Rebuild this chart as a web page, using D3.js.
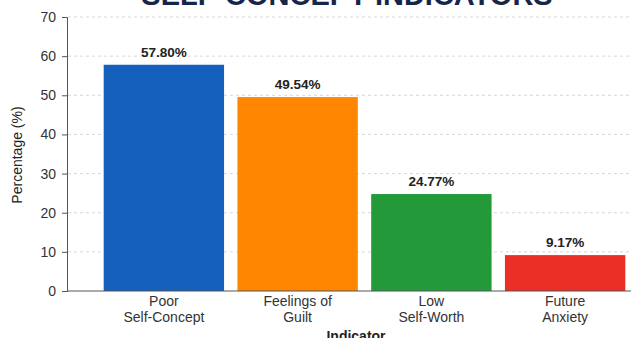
<!DOCTYPE html>
<html>
<head>
<meta charset="utf-8">
<script src="https://d3js.org/d3.v7.min.js"></script>
<style>
  body { margin: 0; background: #fff; }
  text { font-family: "Liberation Sans", Arial, sans-serif; }
</style>
</head>
<body>
<div id="chart"></div>
<script>
// data
var categories = ["Poor\nSelf-Concept", "Feelings of\nGuilt", "Low\nSelf-Worth", "Future\nAnxiety"];
var values = [57.80, 49.54, 24.77, 9.17];
var colors = ["#1560bd", "#ff8600", "#24993a", "#eb2f26"];
var yTicks = [0, 10, 20, 30, 40, 50, 60, 70];

var width = 631, height = 338;

var svg = d3.select("#chart").append("svg")
  .attr("width", width).attr("height", height);

var x = d3.scaleBand().domain(categories).range([97, 632]).paddingInner(0.1).paddingOuter(0.05);
var y = d3.scaleLinear().domain([0, 70]).range([291, 17]);

// title (cut off at top)
svg.append("text")
  .attr("x", 347).attr("y", 5)
  .attr("text-anchor", "middle")
  .attr("font-size", 29).attr("font-weight", "bold")
  .attr("fill", "#16264a")
  .text("SELF-CONCEPT INDICATORS");

// grid
svg.selectAll("line.grid")
  .data(yTicks.slice(1))
  .enter().append("line")
  .attr("x1", 68).attr("x2", width)
  .attr("y1", function(d) { return y(d); }).attr("y2", function(d) { return y(d); })
  .attr("stroke", "#d8d8d8").attr("stroke-dasharray", "3,3");

// bars
svg.selectAll("rect")
  .data(values)
  .enter().append("rect")
  .attr("x", function(d, i) { return x(categories[i]); })
  .attr("y", function(d) { return y(d); })
  .attr("width", x.bandwidth())
  .attr("height", function(d) { return y(0) - y(d); })
  .attr("fill", function(d, i) { return colors[i]; });

// value labels
svg.selectAll("text.val")
  .data(values)
  .enter().append("text")
  .attr("x", function(d, i) { return x(categories[i]) + x.bandwidth() / 2; })
  .attr("y", function(d) { return y(d) - 8; })
  .attr("text-anchor", "middle")
  .attr("font-size", 13.5).attr("font-weight", "bold").attr("fill", "#222")
  .text(function(d) { return d.toFixed(2) + "%"; });

// y axis
var yAxis = d3.axisLeft(y).tickValues(yTicks).tickSize(5).tickPadding(6);
var gy = svg.append("g").attr("transform", "translate(67,0)").call(yAxis);
gy.select(".domain").attr("stroke", "#555");
gy.selectAll(".tick line").attr("stroke", "#555");
gy.selectAll(".tick text").attr("font-size", 14).attr("fill", "#333")
  .style("font-family", "Liberation Sans, Arial, sans-serif");

// x axis baseline
svg.append("line")
  .attr("x1", 67).attr("x2", width)
  .attr("y1", y(0)).attr("y2", y(0))
  .attr("stroke", "#555");

// category labels
var cat = svg.selectAll("text.cat")
  .data(categories)
  .enter().append("text")
  .attr("x", function(d) { return x(d) + x.bandwidth() / 2; })
  .attr("y", 306)
  .attr("text-anchor", "middle")
  .attr("font-size", 14).attr("fill", "#333");
cat.selectAll("tspan")
  .data(function(d) { return d.split("\n"); })
  .enter().append("tspan")
  .attr("x", function() { return d3.select(this.parentNode).attr("x"); })
  .attr("dy", function(d, i) { return i ? 16 : 0; })
  .text(function(d) { return d; });

// axis titles
svg.append("text")
  .attr("x", 356).attr("y", 341)
  .attr("text-anchor", "middle")
  .attr("font-size", 14).attr("font-weight", "bold").attr("fill", "#222")
  .text("Indicator");

svg.append("text")
  .attr("transform", "translate(22,155) rotate(-90)")
  .attr("text-anchor", "middle")
  .attr("font-size", 14).attr("fill", "#222")
  .text("Percentage (%)");
</script>
</body>
</html>
